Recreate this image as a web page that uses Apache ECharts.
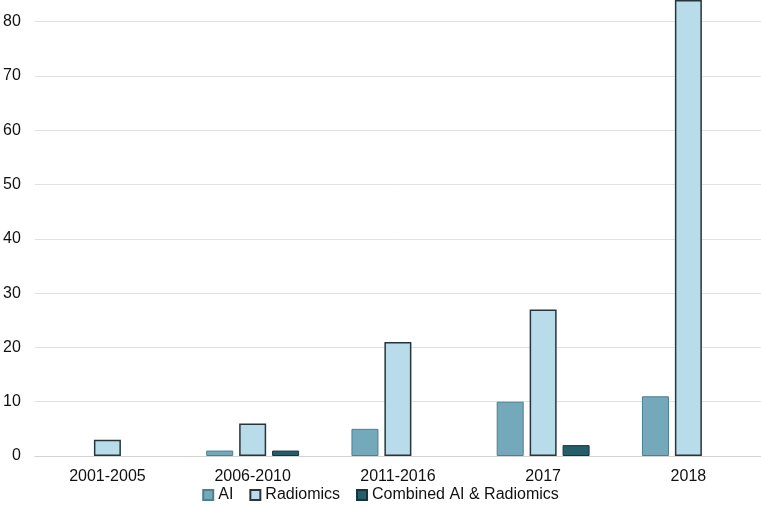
<!DOCTYPE html>
<html><head><meta charset="utf-8">
<script src="https://cdn.jsdelivr.net/npm/echarts@6/dist/echarts.min.js"></script>
<style>html,body{margin:0;padding:0;background:#fff}#c{width:761px;height:508px}</style>
</head><body><div id="c"></div>
<script>
const categories = ['2001-2005','2006-2010','2011-2016','2017','2018'];
const aiValues = [0,1,5,10,11];
const radiomicsValues = [3,6,21,27,84];
const combinedValues = [0,1,0,2,0];
const yTicks = [0,10,20,30,40,50,60,70,80];

const toData = arr => arr.map(v => v === 0 ? {value:v, itemStyle:{borderWidth:0}} : v);

const chart = echarts.init(document.getElementById('c'));
const font = 'Liberation Sans, Arial, sans-serif';
chart.setOption({
  animation:false,
  grid:{left:30,right:0,top:0,bottom:52,containLabel:false},
  legend:{
    bottom:5,left:'center',itemWidth:10,itemHeight:10,itemGap:16,itemTextGap:4,padding:0,
    icon:'rect',
    textStyle:{fontFamily:font,fontSize:16,color:'#111'},
    data:['AI','Radiomics','Combined AI & Radiomics']
  },
  xAxis:{type:'category',data:categories,
    axisLine:{lineStyle:{color:'#d4d4d4'}},axisTick:{show:false},
    axisLabel:{fontFamily:font,fontSize:16,color:'#111',margin:13}},
  yAxis:{type:'value',min:0,max:84,interval:10,
    axisLine:{show:false},axisTick:{show:false},
    splitLine:{lineStyle:{color:['#e2e2e2','#e2e2e2','#e2e2e2','#e2e2e2','#e2e2e2','#e2e2e2','#e2e2e2','#e2e2e2','#e2e2e2','#ffffff']}},
    axisLabel:{fontFamily:font,fontSize:16,color:'#111',margin:14,showMaxLabel:false,
      formatter:v=>yTicks.includes(v)?String(v):''}},
  series:[
    {name:'AI',type:'bar',data:toData(aiValues),barWidth:27,barGap:'22%',
      itemStyle:{color:'#73a9bb',borderColor:'#4d7f8e',borderWidth:1}},
    {name:'Radiomics',type:'bar',data:toData(radiomicsValues),barWidth:27,barGap:'22%',
      itemStyle:{color:'#b8dcea',borderColor:'#26363c',borderWidth:1.5}},
    {name:'Combined AI & Radiomics',type:'bar',data:toData(combinedValues),barWidth:27,barGap:'22%',
      itemStyle:{color:'#255d6b',borderColor:'#16343c',borderWidth:1}}
  ]
});
</script></body></html>
